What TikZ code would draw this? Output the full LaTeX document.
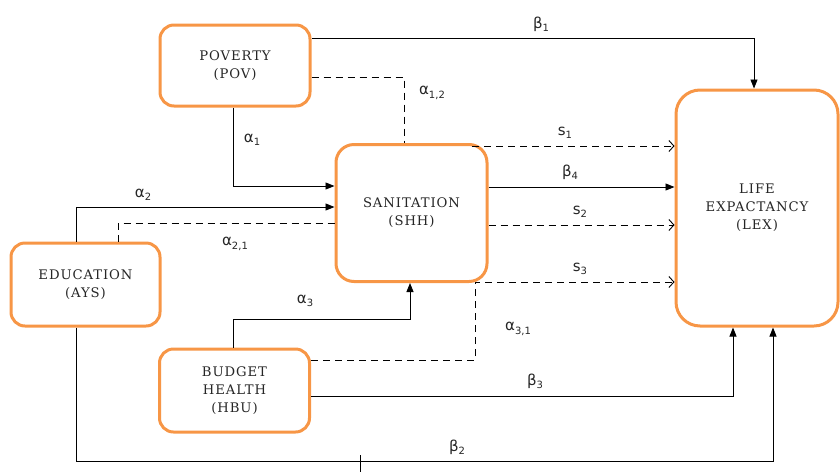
\documentclass[tikz,border=0pt]{standalone}
\usepackage{fontspec}
\newfontfamily\boxfont{DejaVu Serif}[LetterSpace=7]
\newfontfamily\labfont{DejaVu Sans}
\newcommand\lbl[2]{#1\raisebox{-0.4ex}{\fontsize{10}{10}\selectfont #2}}
\usetikzlibrary{arrows.meta}
\definecolor{boxorange}{RGB}{247,150,70}
\begin{document}
\begin{tikzpicture}[x=1pt,y=-1pt,
  box/.style={draw=boxorange, line width=3pt, rounded corners=14pt, fill=white, align=center,
    inner sep=0pt, text=black!85, font=\boxfont\fontsize{13.2}{18}\selectfont},
  conn/.style={line width=0.9pt, draw=black},
  dsh/.style={conn, dash pattern=on 7pt off 5pt},
  farr/.style={-{Triangle[length=9pt,width=7pt]}},
  oarr/.style={-{Straight Barb[length=5pt,width=11pt]}},
  lab/.style={font=\labfont\fontsize{15}{16}\selectfont, inner sep=0pt, text=black!85}]
\useasboundingbox (0,0) rectangle (840,472);
% boxes
\node[box, minimum width=150pt, minimum height=81pt] (POV) at (235,65.5) {POVERTY\\(POV)};
\node[box, minimum width=151pt, minimum height=137pt, rounded corners=18pt] (SHH) at (411.5,213) {SANITATION\\(SHH)};
\node[box, minimum width=149pt, minimum height=83pt] (EDU) at (85.5,284.5) {EDUCATION\\(AYS)};
\node[box, minimum width=150pt, minimum height=83pt] (HBU) at (234.5,390.5) {BUDGET\\HEALTH\\(HBU)};
\node[box, minimum width=162pt, minimum height=236pt, rounded corners=24pt] (LEX) at (757,208) {LIFE\\EXPACTANCY\\(LEX)};
% helper coordinates
\coordinate (c3) at (410,319);
\coordinate (c31) at (475,282);
\coordinate (c2) at (773,461);
\coordinate (s1s) at (472,146);
\coordinate (tickA) at (360,455);
\coordinate (tickB) at (360,472);
% connectors
\draw[conn, farr] (POV.east |- 0,38) -| ([xshift=-3pt]LEX.north);
\draw[dsh] (POV.east |- 0,77) -| ([xshift=-7.5pt]SHH.north);
\draw[conn, farr] ([xshift=-2pt]POV.south) |- (SHH.west |- 0,186);
\draw[conn, farr] (EDU.north -| 76,0) |- (SHH.west |- 0,207);
\draw[dsh] (EDU.north -| 118,0) |- (SHH.west |- 0,223);
\draw[conn, farr] (HBU.north -| 233,0) |- (c3) -- (SHH.south -| c3);
\draw[dsh, oarr] (HBU.east |- 0,360) -| (c31) -- (LEX.west |- c31);
\draw[conn, farr] (HBU.east |- 0,396) -| (LEX.south -| 733,0);
\draw[conn, farr] (EDU.south -| 76,0) |- (c2) -- (LEX.south -| c2);
\draw[conn] (tickA) -- (tickB);
\draw[dsh, oarr] (s1s) -- (LEX.west |- s1s);
\draw[conn, farr] (SHH.east |- 0,187) -- (LEX.west |- 0,187);
\draw[dsh, oarr] (SHH.east |- 0,225) -- (LEX.west |- 0,225);
% labels
\node[lab] (lb1) at (541,24) {\lbl{β}{1}};
\node[lab] (la12) at (432,93) {\lbl{α}{1,2}};
\node[lab] (la1) at (252,140) {\lbl{α}{1}};
\node[lab] (la2) at (143,195) {\lbl{α}{2}};
\node[lab] (la21) at (235,244) {\lbl{α}{2,1}};
\node[lab] (la3) at (305,301) {\lbl{α}{3}};
\node[lab] (la31) at (518,329) {\lbl{α}{3,1}};
\node[lab] (lb3) at (535,381) {\lbl{β}{3}};
\node[lab] (lb2) at (457,447) {\lbl{β}{2}};
\node[lab] (ls1) at (565,133) {\lbl{s}{1}};
\node[lab] (lb4) at (570,172) {\lbl{β}{4}};
\node[lab] (ls2) at (580,212) {\lbl{s}{2}};
\node[lab] (ls3) at (580,269) {\lbl{s}{3}};
\end{tikzpicture}
\end{document}
